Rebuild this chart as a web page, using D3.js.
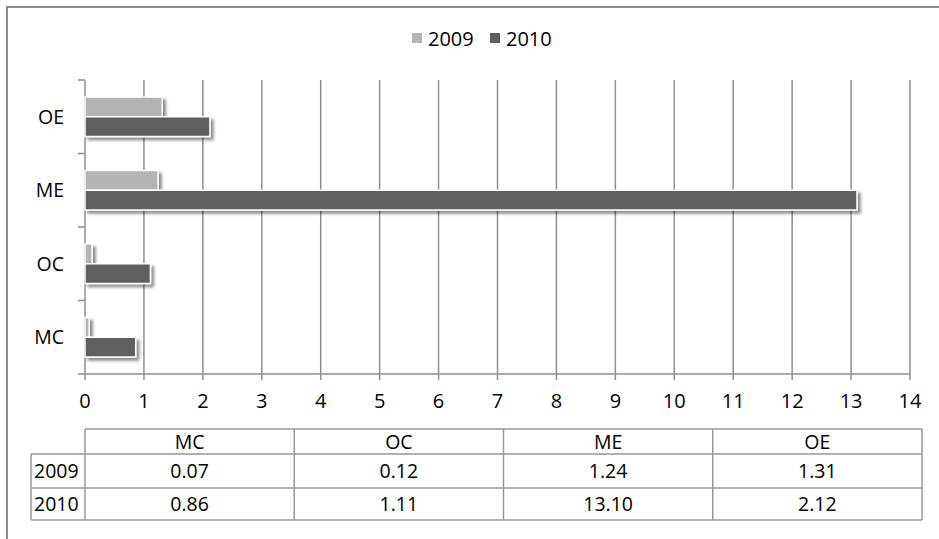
<!DOCTYPE html>
<html><head><meta charset="utf-8">
<script src="https://cdn.jsdelivr.net/npm/d3@7"></script>
<style>body{margin:0;background:#fff}svg{display:block}text{font-family:"Open Sans",Lato,sans-serif;fill:#000}</style>
</head><body><svg id="c" width="939" height="539"></svg>
<script>
const categories = ["MC","OC","ME","OE"];
const series = ["2009","2010"];
const values2009 = [0.07,0.12,1.24,1.31];
const values2010 = [0.86,1.11,13.10,2.12];
const tableLabels2009 = ["0.07","0.12","1.24","1.31"];
const tableLabels2010 = ["0.86","1.11","13.10","2.12"];
const xTicks = [0,1,2,3,4,5,6,7,8,9,10,11,12,13,14];
const colors = {"2009":"#b3b3b3","2010":"#5f5f5f"};

const svg = d3.select("#c");
const defs = svg.append("defs");
const f = defs.append("filter").attr("id","sh").attr("x","-10%").attr("y","-30%").attr("width","130%").attr("height","180%");
f.append("feGaussianBlur").attr("in","SourceAlpha").attr("stdDeviation",1.6).attr("result","b");
f.append("feOffset").attr("in","b").attr("dx",2.5).attr("dy",2.5).attr("result","o");
f.append("feComponentTransfer").attr("in","o").attr("result","o2").append("feFuncA").attr("type","linear").attr("slope",0.45);
const m = f.append("feMerge"); m.append("feMergeNode").attr("in","o2"); m.append("feMergeNode").attr("in","SourceGraphic");

svg.append("path").attr("d","M7,539V7H939").attr("fill","none").attr("stroke","#8c8c8c").attr("stroke-width",2);

const x = d3.scaleLinear().domain([0,14]).range([85,910]);
const y = d3.scaleBand().domain(categories.slice().reverse()).range([80,374]);
const ySub = d3.scaleBand().domain(series).range([17, y.bandwidth()-17]);
const gridC = "#8f8f8f";

svg.append("g").selectAll("line").data(xTicks).join("line")
  .attr("x1",d=>x(d)).attr("x2",d=>x(d)).attr("y1",80).attr("y2",380)
  .attr("stroke",gridC).attr("stroke-width",1.5);
svg.append("line").attr("x1",85).attr("x2",910).attr("y1",374).attr("y2",374).attr("stroke",gridC).attr("stroke-width",1.5);
const bounds = categories.map(c=>y(c)).concat([374]);
svg.append("g").selectAll("line").data(bounds).join("line")
  .attr("x1",78).attr("x2",85).attr("y1",d=>d).attr("y2",d=>d).attr("stroke",gridC).attr("stroke-width",1.5);

svg.append("g").selectAll("text").data(xTicks).join("text")
  .attr("x",d=>x(d)).attr("y",408).attr("text-anchor","middle").attr("font-size",20).text(d=>d);
svg.append("g").selectAll("text").data(categories).join("text")
  .attr("x",64).attr("y",c=>y(c)+y.bandwidth()/2+7).attr("text-anchor","end").attr("font-size",19.5).text(c=>c);

const data = [];
categories.forEach((c,i)=>{ data.push({c,s:"2009",v:values2009[i]}); data.push({c,s:"2010",v:values2010[i]}); });
svg.append("g").attr("filter","url(#sh)").selectAll("rect").data(data).join("rect")
  .attr("x",x(0)).attr("y",d=>y(d.c)+ySub(d.s)).attr("width",d=>x(d.v)-x(0)).attr("height",ySub.bandwidth())
  .attr("fill",d=>colors[d.s]).attr("stroke","#fff").attr("stroke-width",1.5);

const lg = svg.append("g");
const lx = [412,490];
series.forEach((s,i)=>{
  lg.append("rect").attr("x",lx[i]).attr("y",33).attr("width",10).attr("height",10).attr("fill",colors[s]);
  lg.append("text").attr("x",lx[i]+16).attr("y",46).attr("font-size",20).text(s);
});

const tx = d3.scaleBand().domain(categories).range([85,922]);
const tb = {top:429, h1:454, h2:488, bottom:520, left:31};
const tg = svg.append("g");
const lineC = "#999";
const L = (x1,y1,x2,y2)=>tg.append("line").attr("x1",x1).attr("y1",y1).attr("x2",x2).attr("y2",y2).attr("stroke",lineC).attr("stroke-width",1.5);
L(85,tb.top,922,tb.top); L(tb.left,tb.h1,922,tb.h1); L(tb.left,tb.h2,922,tb.h2); L(tb.left,tb.bottom,922,tb.bottom);
L(tb.left,tb.h1,tb.left,tb.bottom);
categories.forEach(c=>L(tx(c),tb.top,tx(c),tb.bottom));
L(922,tb.top,922,tb.bottom);
const fs = 19.5;
tg.selectAll("text.h").data(categories).join("text").attr("class","h")
  .attr("x",c=>tx(c)+tx.bandwidth()/2).attr("y",449).attr("text-anchor","middle").attr("font-size",fs).text(c=>c);
tg.selectAll("text.r1").data(tableLabels2009).join("text").attr("class","r1")
  .attr("x",(d,i)=>tx(categories[i])+tx.bandwidth()/2).attr("y",478).attr("text-anchor","middle").attr("font-size",fs).text(d=>d);
tg.selectAll("text.r2").data(tableLabels2010).join("text").attr("class","r2")
  .attr("x",(d,i)=>tx(categories[i])+tx.bandwidth()/2).attr("y",511).attr("text-anchor","middle").attr("font-size",fs).text(d=>d);
tg.append("text").attr("x",34).attr("y",478).attr("font-size",fs).text(series[0]);
tg.append("text").attr("x",34).attr("y",511).attr("font-size",fs).text(series[1]);
</script></body></html>
